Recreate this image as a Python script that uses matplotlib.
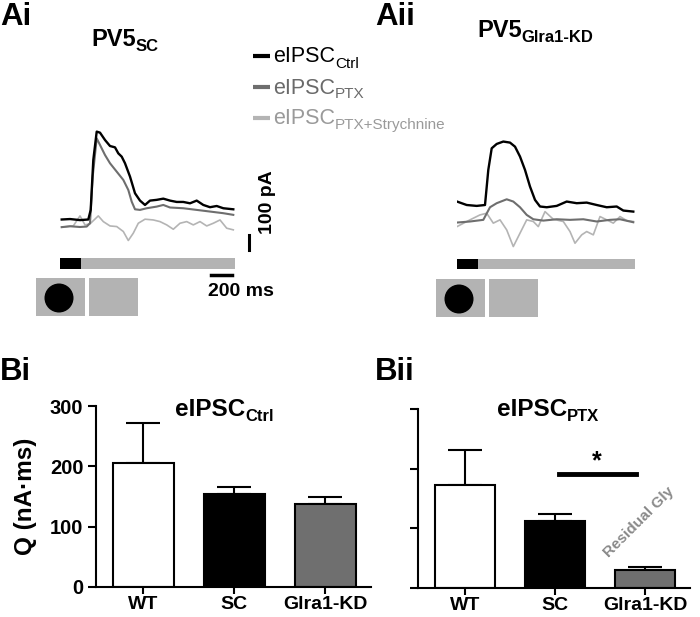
import matplotlib
matplotlib.use('Agg')
import matplotlib.pyplot as plt
from matplotlib.patches import Rectangle, Circle
import numpy as np

plt.rcParams['font.family'] = ['Liberation Sans', 'DejaVu Sans']
plt.rcParams['font.weight'] = 'bold'

# ---- traces (time in ms, current in pA) ----
a1_ctrl_t = [17, 100, 200, 283, 307, 333, 367, 400, 450, 500, 550, 583, 617, 650, 700,
             750, 800, 850, 900, 967, 1033, 1100, 1167, 1233, 1300, 1367, 1433, 1500,
             1567, 1633, 1733]
a1_ctrl_i = [0, 3, -4, 0, 64, 397, 586, 579, 530, 490, 481, 441, 419, 375, 286,
             175, 126, 97, 126, 131, 139, 126, 117, 117, 108, 126, 97, 82,
             90, 75, 68]
a1_ptx_t = [17, 100, 200, 267, 300, 327, 367, 400, 450, 500, 567, 633, 683, 717, 750,
            800, 867, 967, 1033, 1100, 1233, 1367, 1500, 1633, 1733]
a1_ptx_i = [-51, -45, -50, -47, -25, 286, 541, 497, 430, 375, 319, 264, 197, 119, 68,
            64, 75, 86, 97, 80, 75, 64, 53, 42, 31]
a1_str_t = [17, 133, 200, 250, 300, 383, 433, 500, 567, 633, 683, 733, 783, 850, 933,
            1000, 1067, 1133, 1200, 1267, 1333, 1400, 1467, 1533, 1600, 1667, 1733]
a1_str_i = [-51, -43, 24, -36, -29, 24, -14, -43, -47, -80, -140, -91, -25, 2, -3,
            -14, -36, -65, -25, -14, -36, -14, -43, -25, -3, -58, -69]

a2_ctrl_t = [0, 97, 197, 280, 313, 347, 397, 463, 530, 580, 630, 680, 730, 780, 830,
             897, 997, 1097, 1197, 1297, 1397, 1497, 1597, 1663, 1763]
a2_ctrl_i = [123, 100, 94, 100, 334, 478, 507, 523, 516, 489, 423, 334, 223, 134, 90,
             85, 94, 123, 112, 116, 100, 85, 90, 63, 56]
a2_ptx_t = [0, 130, 263, 330, 397, 497, 563, 630, 697, 763, 863, 997, 1130, 1263,
            1397, 1530, 1630, 1763]
a2_ptx_i = [-17, -10, 1, 85, 112, 138, 123, 85, 34, 5, -4, 5, 1, 5, -10, 1, 5, -15]
a2_str_t = [0, 130, 230, 297, 363, 430, 497, 563, 630, 697, 763, 813, 880, 963, 1063,
            1130, 1180, 1247, 1297, 1363, 1430, 1497, 1563, 1630, 1697, 1763]
a2_str_i = [-44, 1, 34, 45, -21, 1, -66, -177, -88, 1, -10, -44, 56, 5, -10,
            -77, -155, -99, -77, -99, 23, 1, -21, 23, -4, -10]

stim_on = 210   # ms of light (black part of bar)

# ---- bar data ----
groups = ['WT', 'SC', 'Glra1-KD']
ctrl_mean = [205, 154, 138]
ctrl_sem = [67, 12, 11]
ptx_mean = [172, 113, 31]
ptx_sem = [60, 11, 4]

c_ctrl, c_ptx, c_str = 'black', '#6e6e6e', '#b4b4b4'
bar_colors = ['white', 'black', '#6f6f6f']

W, H = 700, 617
fig = plt.figure(figsize=(7, 6.17), dpi=100)


def px(l, t, r, b):
    return [l / W, 1 - b / H, (r - l) / W, (b - t) / H]


ov = fig.add_axes([0, 0, 1, 1])
ov.set_xlim(0, W)
ov.set_ylim(H, 0)
ov.axis('off')


def sub_text(ax, x, y, main, sub, size, subsize, color='black', weight='bold'):
    t = ax.text(x, y, main, fontsize=size, color=color, fontweight=weight,
                va='baseline', ha='left')
    ax.annotate(sub, xy=(1, 0), xycoords=t, fontsize=subsize, color=color,
                fontweight=weight, va='baseline', ha='left')


# panel labels
for x, y, s in [(0, 25, 'Ai'), (375, 25, 'Aii'), (0, 380, 'Bi'), (375, 380, 'Bii')]:
    ov.text(x, y, s, fontsize=22.5, fontweight='bold', va='baseline', ha='left')

# trace titles
sub_text(ov, 91, 46, 'PV5', 'SC', 17, 12)
sub_text(ov, 477, 37, 'PV5', 'Glra1-KD', 17, 12)

# legend
for y, lab, lc, tc in [(56, 'Ctrl', c_ctrl, 'black'), (87, 'PTX', c_ptx, '#6a6a6a'),
                       (118, 'PTX+Strychnine', c_str, '#9a9a9a')]:
    ov.plot([253, 270], [y, y], color=lc, lw=3, solid_capstyle='butt')
    sub_text(ov, 273, y + 6.5, 'eIPSC', lab, 15.5, 11, color=tc, weight='normal')

# stimulus icons
for x0, y0 in [(36, 278), (436, 279)]:
    ov.add_patch(Rectangle((x0, y0), 49, 38, color='#b3b3b3', lw=0))
    ov.add_patch(Circle((x0 + 23, y0 + 20), 14.5, color='black', lw=0))
    ov.add_patch(Rectangle((x0 + 53, y0), 49, 38, color='#b3b3b3', lw=0))


def trace_axes(rect, t_end, ctrl, ptx, strych, bars=False):
    ax = fig.add_axes(rect)
    ax.set_xlim(0, t_end)
    ax.set_ylim(-520, 650)
    ax.axis('off')
    ax.plot(strych[0], strych[1], color=c_str, lw=1.2)
    ax.plot(ptx[0], ptx[1], color=c_ptx, lw=1.5)
    ax.plot(ctrl[0], ctrl[1], color=c_ctrl, lw=1.7)
    ax.broken_barh([(0, stim_on)], (-330, 73), facecolor='black')
    ax.broken_barh([(stim_on, t_end - stim_on)], (-330, 73), facecolor='#b3b3b3')
    if bars:
        ax.plot([1890, 1890], [-203, -103], color='black', lw=2.2, clip_on=False)
        ax.text(2080, 117, '100 pA', rotation=90, ha='center', va='center',
                fontsize=14, fontweight='bold', clip_on=False)
        ax.plot([1510, 1720], [-370, -370], color='black', lw=2.5, clip_on=False)
        ax.text(1810, -483, '200 ms', ha='center', va='center', fontsize=14,
                fontweight='bold', clip_on=False)
    return ax


trace_axes(px(60, 122, 235, 297.5), 1750, (a1_ctrl_t, a1_ctrl_i),
           (a1_ptx_t, a1_ptx_i), (a1_str_t, a1_str_i), bars=True)
trace_axes(px(457, 122.5, 635, 298), 1780, (a2_ctrl_t, a2_ctrl_i),
           (a2_ptx_t, a2_ptx_i), (a2_str_t, a2_str_i))


def bar_axes(rect, mean, sem, ylabels=True):
    ax = fig.add_axes(rect)
    x = np.arange(len(groups))
    ax.bar(x, mean, width=0.67, color=bar_colors, edgecolor='black', linewidth=1.5,
           zorder=2)
    ax.errorbar(x, mean, yerr=[np.zeros(len(x)), sem], fmt='none', ecolor='black',
                elinewidth=1.5, capsize=12, capthick=1.5, zorder=1)
    ax.set_xlim(-0.52, 2.5)
    ax.set_ylim(0, 300)
    ax.set_yticks([0, 100, 200, 300])
    ax.set_xticks(x)
    ax.set_xticklabels(groups)
    if not ylabels:
        ax.set_yticklabels([])
    for s in ['top', 'right']:
        ax.spines[s].set_visible(False)
    for s in ['left', 'bottom']:
        ax.spines[s].set_linewidth(1.5)
    ax.tick_params(axis='y', width=1.5, length=6, labelsize=14.5, pad=3)
    ax.tick_params(axis='x', width=1.5, length=5, labelsize=14, pad=1.5)
    ax.patch.set_alpha(0)
    return ax


ax1 = bar_axes(px(96, 406, 371, 587), ctrl_mean, ctrl_sem)
ax1.set_ylabel('Q (nA·ms)', fontsize=17.5, fontweight='bold')
ax1.yaxis.set_label_coords(-0.215, 0.5)
ax2 = bar_axes(px(418, 409, 690, 588), ptx_mean, ptx_sem, ylabels=False)
ax2.plot([1.04, 1.9], [191, 191], color='black', lw=3.5)
ax2.text(1.47, 192, '*', ha='center', va='bottom', fontsize=18, fontweight='bold')
ax2.text(1.93, 110, 'Residual Gly', rotation=45, color='#8a8a8a', fontsize=11,
         fontweight='bold', ha='center', va='center', rotation_mode='anchor')

sub_text(ov, 175, 416, 'eIPSC', 'Ctrl', 17.5, 12)
sub_text(ov, 497, 416, 'eIPSC', 'PTX', 17.5, 12)

fig.savefig('out.png', dpi=100)
